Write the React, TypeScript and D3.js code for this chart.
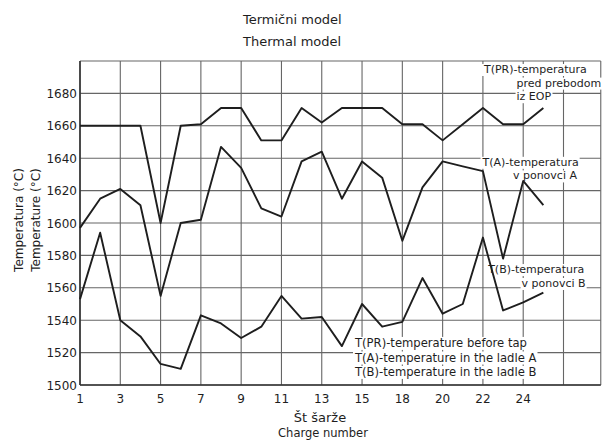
import React, { useEffect, useRef } from "react";
import * as d3 from "d3";

// charge numbers (positions along x) and the three temperature series
const charges = [1, 2, 3, 4, 5, 6, 7, 8, 9, 10, 11, 12, 13, 14, 15, 16, 17, 18, 19, 20, 21, 22, 23, 24];
const tPR = [1660, 1660, 1660, 1660, 1600, 1660, 1661, 1671, 1671, 1651, 1651, 1671, 1662, 1671, 1671, 1671, 1661, 1661, 1651, 1661, 1671, 1661, 1661, 1671];
const tA = [1597, 1615, 1621, 1611, 1555, 1600, 1602, 1647, 1634, 1609, 1604, 1638, 1644, 1615, 1638, 1628, 1589, 1622, 1638, 1635, 1632, 1578, 1626, 1611];
const tB = [1553, 1594, 1540, 1530, 1513, 1510, 1543, 1538, 1529, 1536, 1555, 1541, 1542, 1524, 1550, 1536, 1539, 1566, 1544, 1550, 1591, 1546, 1551, 1557];

// axis ticks (the original sheet labels its positions like this)
const xTickValues = [1, 3, 5, 7, 9, 11, 13, 15, 17, 19, 21, 23];
const xTickLabels = ["1", "3", "5", "7", "9", "11", "13", "15", "18", "20", "22", "24"];
const xGrid = [1, 3, 5, 7, 9, 11, 13, 15, 17, 19, 21, 23, 25];
const yTicks = [1500, 1520, 1540, 1560, 1580, 1600, 1620, 1640, 1660, 1680];
const yGrid = [1500, 1520, 1540, 1560, 1580, 1600, 1620, 1640, 1660, 1680, 1700];

// labels written inside the plot, placed in data units
const notes = [
  { lines: ["T(PR)-temperatura", "pred prebodom", "iz EOP"], x: [21.05, 22.67, 22.67], y: [1692.6, 1684.2, 1675.8], size: 11 },
  { lines: ["T(A)-temperatura", "v ponovci A"], x: [20.98, 22.49], y: [1635.3, 1626.9], size: 11 },
  { lines: ["T(B)-temperatura", "v ponovci B"], x: [21.26, 22.92], y: [1569.1, 1560.5], size: 11 },
  {
    lines: ["T(PR)-temperature before tap", "T(A)-temperature in the ladle A", "T(B)-temperature in the ladle B"],
    x: [14.65, 14.65, 14.65],
    y: [1523.5, 1514.5, 1505.6],
    size: 11.6,
  },
];

const W = 604;
const H = 441;
const FONT = "DejaVu Sans, Verdana, sans-serif";
const INK = "#1e1e1e";

export default function App() {
  const ref = useRef<SVGSVGElement>(null);

  useEffect(() => {
    const svg = d3.select(ref.current);
    svg.selectAll("*").remove();

    const x = d3.scaleLinear().domain([1, 25]).range([80, 563.5]);
    const y = d3.scaleLinear().domain([1500, 1700]).range([385, 61]);
    const xRight = x(26.85);

    svg.append("rect").attr("width", W).attr("height", H).attr("fill", "#fff");

    // grid
    const grid = svg.append("g").attr("stroke", "#666").attr("stroke-width", 1.1);
    grid.selectAll("line.v")
      .data(xGrid)
      .enter()
      .append("line")
      .attr("x1", (d) => x(d))
      .attr("x2", (d) => x(d))
      .attr("y1", y(1500))
      .attr("y2", y(1700));
    grid.selectAll("line.h")
      .data(yGrid)
      .enter()
      .append("line")
      .attr("x1", x(1))
      .attr("x2", xRight)
      .attr("y1", (d) => y(d))
      .attr("y2", (d) => y(d));
    grid.append("line")
      .attr("x1", xRight).attr("x2", xRight)
      .attr("y1", y(1500)).attr("y2", y(1700));

    // white boxes behind the written labels, then lines, then the text
    const bgLayer = svg.append("g");
    const lineLayer = svg.append("g");
    const textLayer = svg.append("g");

    // axes frame (left and bottom heavier)
    lineLayer.append("line")
      .attr("x1", x(1)).attr("x2", x(1))
      .attr("y1", y(1500)).attr("y2", y(1700))
      .attr("stroke", "#333").attr("stroke-width", 1.6);
    lineLayer.append("line")
      .attr("x1", x(1)).attr("x2", xRight)
      .attr("y1", y(1500)).attr("y2", y(1500))
      .attr("stroke", "#333").attr("stroke-width", 1.6);

    const line = d3.line<number>()
      .x((_, i) => x(charges[i]))
      .y((d) => y(d));

    [tPR, tA, tB].forEach((s) => {
      lineLayer.append("path")
        .attr("d", line(s))
        .attr("fill", "none")
        .attr("stroke", INK)
        .attr("stroke-width", 1.9)
        .attr("stroke-linejoin", "round");
    });

    notes.forEach((n) => {
      n.lines.forEach((t, i) => {
        const el = textLayer.append("text")
          .attr("x", x(n.x[i]))
          .attr("y", y(n.y[i]))
          .attr("font-size", n.size)
          .attr("font-family", FONT)
          .attr("fill", INK)
          .text(t);
        const b = (el.node() as SVGTextElement).getBBox();
        bgLayer.append("rect")
          .attr("x", b.x - 1)
          .attr("y", b.y + 1)
          .attr("width", b.width + 2)
          .attr("height", b.height - 1)
          .attr("fill", "#fff");
      });
    });

    // y tick labels
    textLayer.selectAll("text.yt")
      .data(yTicks)
      .enter()
      .append("text")
      .attr("x", x(1) - 3)
      .attr("y", (d) => y(d) + 4.5)
      .attr("text-anchor", "end")
      .attr("font-size", 12)
      .attr("font-family", FONT)
      .attr("fill", INK)
      .text((d) => d);

    // x tick labels
    textLayer.selectAll("text.xt")
      .data(xTickValues)
      .enter()
      .append("text")
      .attr("x", (d) => x(d))
      .attr("y", y(1500) + 18)
      .attr("text-anchor", "middle")
      .attr("font-size", 12)
      .attr("font-family", FONT)
      .attr("fill", INK)
      .text((_, i) => xTickLabels[i]);

    // titles
    const title = textLayer.append("g")
      .attr("font-family", FONT)
      .attr("fill", INK)
      .attr("font-size", 13);
    title.append("text").attr("x", 243).attr("y", 24).text("Termični model");
    title.append("text").attr("x", 243).attr("y", 46).text("Thermal model");
    title.append("text").attr("x", 320).attr("y", 422).attr("text-anchor", "middle").text("Št šarže");
    title.append("text").attr("x", 323).attr("y", 437).attr("text-anchor", "middle")
      .attr("font-size", 11.5).text("Charge number");
    title.append("text")
      .attr("transform", "translate(22.5,220) rotate(-90)")
      .attr("text-anchor", "middle")
      .attr("font-size", 12)
      .text("Temperatura (°C)");
    title.append("text")
      .attr("transform", "translate(39.5,220) rotate(-90)")
      .attr("text-anchor", "middle")
      .attr("font-size", 12)
      .text("Temperature (°C)");
  }, []);

  return (
    <svg
      ref={ref}
      width={W}
      height={H}
      style={{ position: "absolute", left: 0, top: 0, display: "block" }}
    />
  );
}
